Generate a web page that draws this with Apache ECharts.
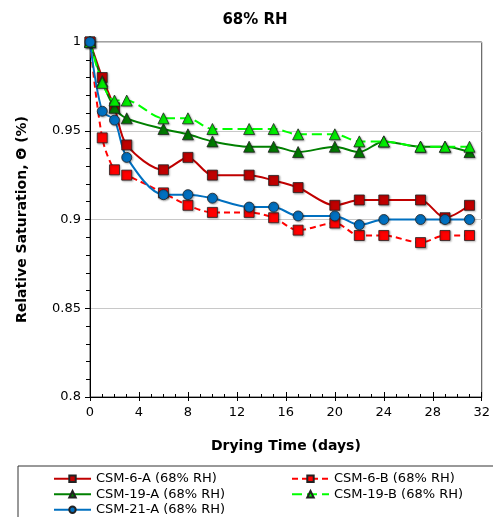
<!DOCTYPE html>
<html>
<head>
<meta charset="utf-8">
<script src="https://cdn.jsdelivr.net/npm/echarts@6/dist/echarts.min.js"></script>
<style>
  html, body { margin: 0; padding: 0; background: #fff; }
  #chart { width: 493px; height: 517px; }
</style>
</head>
<body>
<div id="chart"></div>
<script>
const days = [0, 1, 2, 3, 6, 8, 10, 13, 15, 17, 20, 22, 24, 27, 29, 31]
const csm6A = [1, 0.980, 0.963, 0.942, 0.928, 0.935, 0.925, 0.925, 0.922, 0.918, 0.908, 0.911, 0.911, 0.911, 0.901, 0.908]
const csm6B = [1, 0.946, 0.928, 0.925, 0.915, 0.908, 0.904, 0.904, 0.901, 0.894, 0.898, 0.891, 0.891, 0.887, 0.891, 0.891]
const csm19A = [1, 0.978, 0.963, 0.957, 0.951, 0.948, 0.944, 0.941, 0.941, 0.938, 0.941, 0.938, 0.944, 0.941, 0.941, 0.938]
const csm19B = [1, 0.977, 0.967, 0.967, 0.957, 0.957, 0.951, 0.951, 0.951, 0.948, 0.948, 0.944, 0.944, 0.941, 0.941, 0.941]
const csm21A = [1, 0.961, 0.956, 0.935, 0.914, 0.914, 0.912, 0.907, 0.907, 0.902, 0.902, 0.897, 0.900, 0.900, 0.900, 0.900]
const xTicks = [0, 4, 8, 12, 16, 20, 24, 28, 32]
const yTicks = [0.8, 0.85, 0.9, 0.95, 1]

const font = 'DejaVu Sans, Verdana, sans-serif'
const pairs = (vals) => days.map((d, i) => [d, vals[i]])

const markerShadow = {
  borderColor: '#222',
  borderWidth: 0.8,
  shadowColor: 'rgba(0, 0, 0, 0.3)',
  shadowBlur: 2,
  shadowOffsetX: 1,
  shadowOffsetY: 1,
}

const makeSeries = (name, vals, color, fill, symbol, size, dash) => ({
  name,
  type: 'line',
  data: pairs(vals),
  smooth: 0.3,
  symbol,
  symbolSize: size,
  lineStyle: { color, width: 2, type: dash || 'solid' },
  itemStyle: Object.assign({ color: fill }, markerShadow),
  z: 3,
})

const chart = echarts.init(document.getElementById('chart'))

chart.setOption({
  animation: false,
  textStyle: { fontFamily: font },
  title: {
    text: '68% RH',
    left: 250,
    textAlign: 'center',
    top: 8,
    textStyle: { fontFamily: font, fontSize: 15, fontWeight: 'bold', color: '#000' },
  },
  grid: {
    left: 90,
    right: 9,
    top: 42,
    bottom: 120,
    show: true,
    borderColor: '#444',
    borderWidth: 1,
  },
  xAxis: [
    {
      type: 'value',
      min: 0,
      max: 32,
      interval: 4,
      name: 'Drying Time (days)',
      nameLocation: 'middle',
      nameGap: 42,
      nameTextStyle: { fontFamily: font, fontSize: 14, fontWeight: 'bold', color: '#000' },
      axisLine: { lineStyle: { color: '#000', width: 1 } },
      axisTick: { inside: true, length: 5, lineStyle: { color: '#000' } },
      minorTick: { show: true, splitNumber: 4, length: 3, lineStyle: { color: '#000' } },
      axisLabel: {
        fontFamily: font,
        fontSize: 13,
        color: '#000',
        margin: 9,
        formatter: (v) => (xTicks.includes(v) ? String(v) : ''),
      },
      splitLine: { show: false },
    },
    {
      type: 'value',
      min: 0,
      max: 32,
      interval: 4,
      position: 'bottom',
      axisLine: { show: false },
      axisTick: { show: true, length: 4, lineStyle: { color: '#000' } },
      axisLabel: { show: false },
      splitLine: { show: false },
    },
  ],
  yAxis: {
    type: 'value',
    min: 0.8,
    max: 1,
    interval: 0.05,
    name: 'Relative Saturation, Θ (%)',
    nameLocation: 'middle',
    nameGap: 61,
    nameTextStyle: { fontFamily: font, fontSize: 14, fontWeight: 'bold', color: '#000' },
    axisLine: { show: true, lineStyle: { color: '#000', width: 1 } },
    axisTick: { show: true, length: 5, lineStyle: { color: '#000' } },
    minorTick: { show: true, splitNumber: 5, length: 4, lineStyle: { color: '#000' } },
    axisLabel: {
      fontFamily: font,
      fontSize: 13,
      color: '#000',
      margin: 9,
      formatter: (v) => {
        const t = yTicks.find((y) => Math.abs(y - v) < 1e-6)
        return t === undefined ? '' : String(t)
      },
    },
    splitLine: { show: true, lineStyle: { color: '#c8c8c8', width: 1 } },
  },
  legend: {
    left: 18,
    top: 466,
    width: 480,
    orient: 'horizontal',
    itemWidth: 37,
    itemHeight: 8,
    itemGap: 0,
    padding: [5, 30, 30, 35],
    borderColor: '#333',
    borderWidth: 1,
    textStyle: { fontFamily: font, fontSize: 13, color: '#000', width: 195, lineHeight: 15.5 },
    data: ['CSM-6-A (68% RH)', 'CSM-6-B (68% RH)', 'CSM-19-A (68% RH)', 'CSM-19-B (68% RH)', 'CSM-21-A (68% RH)'],
  },
  series: [
    makeSeries('CSM-6-A (68% RH)', csm6A, '#c00000', '#c00000', 'rect', 10),
    makeSeries('CSM-6-B (68% RH)', csm6B, '#ff0000', '#ff0000', 'rect', 10, [6, 4]),
    makeSeries('CSM-19-A (68% RH)', csm19A, '#008000', '#007a00', 'triangle', 11),
    makeSeries('CSM-19-B (68% RH)', csm19B, '#00ff00', '#00ee00', 'triangle', 11, [10, 5]),
    makeSeries('CSM-21-A (68% RH)', csm21A, '#0070c0', '#0070c0', 'circle', 10),
  ],
})
</script>
</body>
</html>
